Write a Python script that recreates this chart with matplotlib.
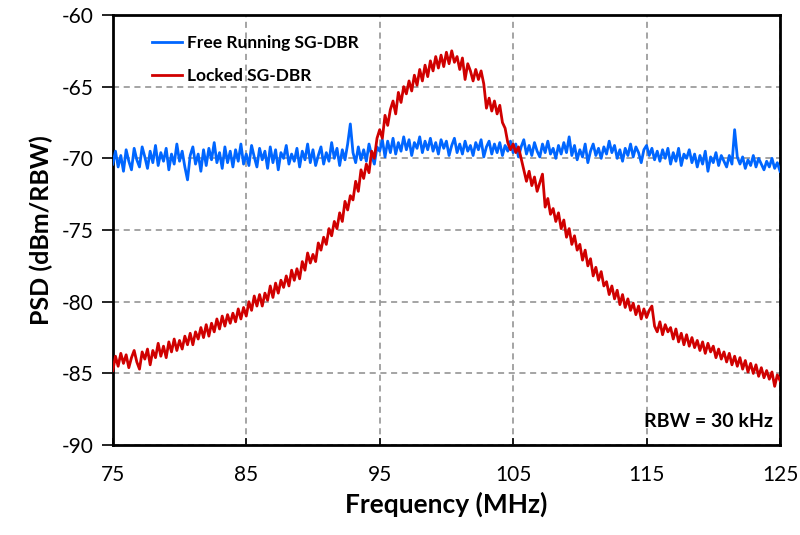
import numpy as np
import matplotlib
matplotlib.use("Agg")
import matplotlib.pyplot as plt

plt.rcParams['font.family'] = ['Lato', 'DejaVu Sans']

# Frequency grid (MHz), 0.2 MHz step
freq = np.round(np.arange(75.0, 125.0001, 0.2), 1)

locked = [
    -84.8, -83.8, -84.5, -83.6, -84.3,
    -83.7, -84.6, -83.9, -83.4, -84.2,
    -84.7, -83.5, -84.0, -83.3, -84.4,
    -83.4, -83.9, -82.9, -83.8, -83.1,
    -83.9, -82.8, -83.5, -82.6, -83.4,
    -82.7, -83.3, -82.4, -83.0, -82.2,
    -83.0, -82.1, -82.6, -81.8, -82.5,
    -81.6, -82.4, -81.5, -82.1, -81.2,
    -81.9, -81.0, -81.7, -80.9, -81.5,
    -80.8, -81.4, -80.5, -81.2, -80.4,
    -81.0, -80.0, -80.6, -79.6, -80.3,
    -79.5, -80.3, -79.4, -79.9, -78.9,
    -79.7, -78.7, -79.4, -78.5, -79.0,
    -78.2, -78.9, -77.8, -78.5, -77.7,
    -78.4, -77.2, -77.8, -76.6, -77.3,
    -76.7, -77.2, -75.9, -76.4, -75.5,
    -76.0, -74.9, -75.4, -74.4, -74.9,
    -73.8, -74.4, -73.0, -73.6, -72.6,
    -72.9, -71.6, -72.3, -70.8, -71.4,
    -70.4, -71.0, -69.5, -70.0, -68.6,
    -68.0, -68.6, -67.0, -67.7, -66.6,
    -66.0, -66.9, -65.4, -66.1, -65.0,
    -65.5, -64.6, -65.3, -64.2, -64.9,
    -63.8, -64.6, -63.5, -64.3, -63.2,
    -63.9, -62.9, -63.7, -62.8, -63.6,
    -62.6, -63.4, -62.5, -63.3, -62.9,
    -63.8, -63.0, -64.5, -63.4, -63.9,
    -64.6, -63.8, -64.5, -63.9, -64.8,
    -66.5, -65.8, -66.7, -66.0, -66.9,
    -66.3, -67.5, -67.9, -68.9, -69.4,
    -69.0, -69.6, -69.2, -70.0, -70.8,
    -71.6, -70.9, -71.9, -71.3, -72.3,
    -71.7, -71.1, -73.4, -72.8, -73.9,
    -73.5, -74.4, -73.8, -74.9, -74.3,
    -75.5, -74.9, -76.0, -75.4, -76.4,
    -76.0, -77.1, -76.4, -77.5, -77.0,
    -78.2, -77.6, -78.5, -77.9, -78.9,
    -78.6, -79.5, -78.9, -79.8, -79.2,
    -80.2, -79.5, -80.4, -79.8, -80.6,
    -80.1, -80.9, -80.3, -81.2, -80.5,
    -81.1, -80.6, -80.3, -81.7, -82.1,
    -81.4, -82.3, -81.6, -82.1, -81.8,
    -82.6, -81.9, -82.8, -82.2, -83.0,
    -82.3, -83.1, -82.5, -83.2, -82.7,
    -83.4, -82.8, -83.6, -82.9, -83.5,
    -83.1, -83.9, -83.3, -84.0, -83.5,
    -84.2, -83.6, -84.4, -83.8, -84.5,
    -83.9, -84.7, -84.1, -84.9, -84.3,
    -85.0, -84.4, -85.2, -84.6, -85.3,
    -84.8, -85.4, -84.9, -85.9, -85.1,
    -85.5,
]

free_running = [
    -70.4, -69.5, -70.6, -69.8, -70.9,
    -69.4, -70.2, -70.8, -69.3, -70.1,
    -70.6, -69.2, -69.9, -70.7, -69.5,
    -70.3, -69.1, -70.5, -69.6, -70.2,
    -69.3, -70.8, -69.7, -70.4, -69.0,
    -70.2, -69.5, -70.6, -71.5, -69.8,
    -69.2, -70.4, -69.7, -70.9, -69.4,
    -70.5, -69.3, -70.1, -68.9, -70.3,
    -69.6, -70.7, -69.2, -70.3, -69.5,
    -70.6, -69.4, -70.2, -69.0, -70.4,
    -69.7, -70.5, -69.1, -69.9, -70.6,
    -69.3, -70.1, -69.5, -70.7, -69.2,
    -70.3, -69.4, -70.8, -69.6, -70.0,
    -69.1, -70.4, -69.7, -70.2, -69.3,
    -70.6, -69.5, -70.1, -69.0, -70.3,
    -69.4, -70.5, -69.8, -69.2, -70.4,
    -69.6, -70.2, -68.9, -70.0, -69.3,
    -70.5, -69.4, -70.1, -69.0, -67.6,
    -69.6, -70.3, -69.2, -70.1, -69.4,
    -70.2, -69.0, -69.8, -70.4, -69.2,
    -69.5, -68.7, -69.9, -68.8, -69.6,
    -68.6, -69.7, -68.9, -69.5, -68.5,
    -69.4, -68.7, -69.8, -68.9, -69.3,
    -68.5, -69.6, -68.8, -69.4, -68.6,
    -69.5, -68.9, -69.7, -68.7, -69.3,
    -68.8, -69.8, -69.1, -68.6, -69.6,
    -69.0, -69.7, -68.8, -69.5, -69.1,
    -69.8, -68.9, -69.4, -68.7, -69.9,
    -69.2, -68.8, -69.7, -69.0, -69.6,
    -68.9, -69.8, -69.1, -69.5, -68.8,
    -69.6, -69.0, -69.9, -69.2, -68.7,
    -69.7, -69.1, -69.8, -68.9, -69.5,
    -69.9, -69.0, -69.6, -68.8, -69.7,
    -69.3, -70.0, -69.1, -69.7, -68.9,
    -69.6, -68.5, -69.8, -69.1, -70.1,
    -69.4, -69.9, -69.0, -70.3, -69.5,
    -69.0, -69.8, -69.3, -70.0, -69.2,
    -69.7, -68.8, -69.6, -69.1, -70.0,
    -69.4, -70.2, -69.3, -69.8, -69.0,
    -69.9, -69.2, -69.6, -70.3, -69.4,
    -69.1, -69.8, -69.3, -70.1, -69.5,
    -70.2, -69.4, -70.0, -69.3, -70.4,
    -69.6, -70.2, -69.3, -70.5, -69.7,
    -70.0, -69.4, -70.3, -69.7, -70.6,
    -69.8, -70.4, -69.5, -70.9, -69.9,
    -70.3, -69.6, -70.5, -69.8, -70.2,
    -70.6, -69.8, -70.4, -68.0, -69.9,
    -70.4, -69.9, -70.7, -70.1, -70.5,
    -69.8, -70.6, -70.0, -70.4, -70.8,
    -70.2, -70.6, -70.0, -70.7, -70.3,
    -70.9,
]

xticks = [75, 85, 95, 105, 115, 125]
yticks = [-90, -85, -80, -75, -70, -65, -60]

fig = plt.figure(figsize=(8.0, 5.35), dpi=100)
ax = fig.add_axes([0.141, 0.168, 0.834, 0.804])

ax.plot(freq, free_running, color='#0066FF', lw=2.0, label='Free Running SG-DBR', zorder=3)
ax.plot(freq, locked, color='#D00000', lw=2.0, label='Locked SG-DBR', zorder=4)

ax.set_xlim(75, 125)
ax.set_ylim(-90, -60)
ax.set_xticks(xticks)
ax.set_yticks(yticks)
ax.set_xticklabels([str(t) for t in xticks])
ax.set_yticklabels([str(t) for t in yticks])

ax.grid(True, color='#8C8C8C', linestyle=(0, (4, 3)), linewidth=1.1, zorder=1)

for s in ax.spines.values():
    s.set_linewidth(2.0)
    s.set_color('black')

ax.tick_params(axis='y', direction='out', length=8, width=1.2, labelsize=15, pad=6)
ax.tick_params(axis='x', direction='in', length=5, width=1.2, labelsize=15, pad=14)

ax.set_xlabel('Frequency (MHz)', fontsize=19, fontweight='bold', labelpad=5)
ax.set_ylabel('PSD (dBm/RBW)', fontsize=18, fontweight='bold', labelpad=6)

leg = ax.legend(loc='upper left', bbox_to_anchor=(0.036, 0.99), frameon=False,
                prop={'weight': 'bold', 'size': 12.5}, handlelength=1.7,
                labelspacing=1.0, handletextpad=0.3)

ax.text(0.99, 0.035, 'RBW = 30 kHz', transform=ax.transAxes, ha='right', va='bottom',
        fontsize=14, fontweight='bold')

fig.savefig('out.png', dpi=100)
